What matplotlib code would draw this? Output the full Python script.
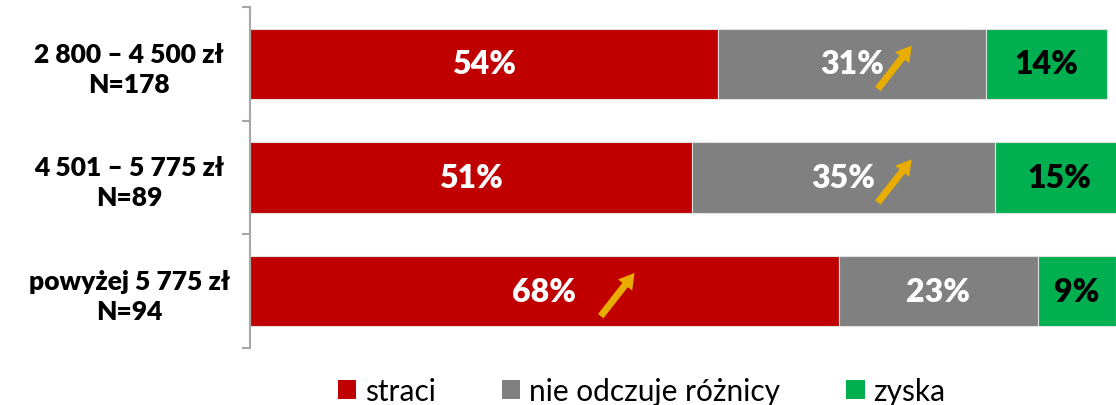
import matplotlib.pyplot as plt
import numpy as np
from matplotlib.patches import Patch

plt.rcParams["font.family"] = ["Lato", "DejaVu Sans"]

# data
categories = ["2 800 – 4 500 zł\nN=178", "4 501 – 5 775 zł\nN=89", "powyżej 5 775 zł\nN=94"]
series_names = ["straci", "nie odczuje różnicy", "zyska"]
straci = [54, 51, 68]
bez_roznicy = [31, 35, 23]
zyska = [14, 15, 9]
colors = ["#C00000", "#808080", "#00B050"]
label_colors = ["white", "white", "black"]

# orange "increase" arrows: (category index, x of arrow tail in %)
arrow_rows = [0, 1, 2]
arrow_x = [72.5, 72.5, 40.5]

fig = plt.figure(figsize=(11.16, 4.06), dpi=100)
ax = fig.add_axes([250 / 1116, 1 - 349 / 406, 866 / 1116, 341 / 406])

y = np.arange(len(categories))
left = np.zeros(len(categories))
for vals, col, tcol in zip([straci, bez_roznicy, zyska], colors, label_colors):
    vals = np.array(vals)
    ax.barh(y, vals, left=left, height=0.62, color=col, edgecolor="#E0E0E0", linewidth=0.8)
    for yi, l, v in zip(y, left, vals):
        ax.text(l + v / 2, yi, f"{v}%", ha="center", va="center",
                color=tcol, fontsize=23, fontweight="heavy")
    left += vals

for r, x in zip(arrow_rows, arrow_x):
    ax.annotate("", xy=(x + 3.9, r - 0.16), xytext=(x, r + 0.22),
                arrowprops=dict(facecolor="#E8AD00", edgecolor="none",
                                width=5, headwidth=13, headlength=11, shrink=0))

ax.set_xlim(0, 100)
ax.set_ylim(2.5, -0.5)
ax.set_yticks(y)
ax.set_yticklabels(categories, fontsize=19, fontweight="heavy", ha="center",
                   multialignment="center", linespacing=1.3)
ax.tick_params(axis="y", which="major", length=0, pad=87)
ax.set_yticks([-0.5, 0.5, 1.5, 2.5], minor=True)
ax.tick_params(axis="y", which="minor", length=6, width=1.5, color="#A6A6A6")
ax.set_xticks([])
for s in ["top", "right", "bottom"]:
    ax.spines[s].set_visible(False)
ax.spines["left"].set_color("#A6A6A6")
ax.spines["left"].set_linewidth(1.5)

handles = [Patch(facecolor=c, edgecolor="none") for c in colors]
fig.legend(handles, series_names, loc="center", bbox_to_anchor=(0.575, 1 - 392 / 406),
           ncol=3, frameon=False, fontsize=21.5, handlelength=0.62, handleheight=0.62,
           handletextpad=0.3, columnspacing=2.2)

fig.savefig("out.png", dpi=100)
